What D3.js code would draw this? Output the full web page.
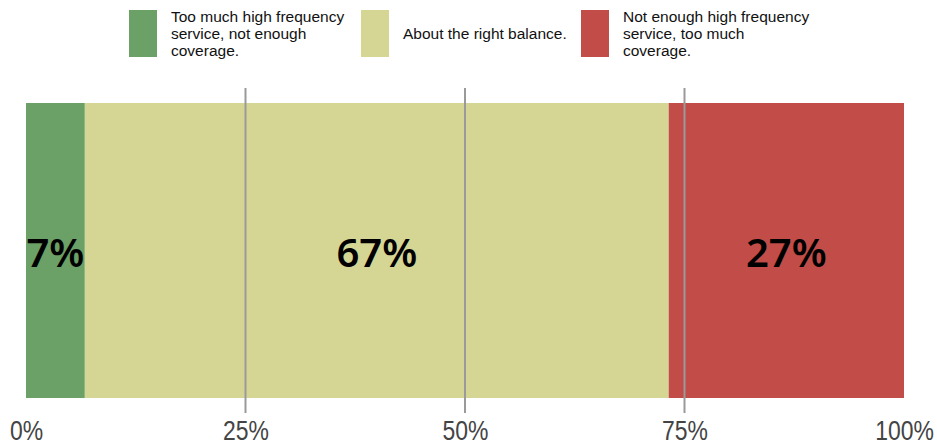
<!DOCTYPE html>
<html>
<head>
<meta charset="utf-8">
<script src="https://cdn.jsdelivr.net/npm/d3@7"></script>
<style>
  body { margin: 0; background: #fff; }
</style>
</head>
<body>
<div id="chart"></div>
<script>
// data
const categories = [
  "Too much high frequency service, not enough coverage.",
  "About the right balance.",
  "Not enough high frequency service, too much coverage."
];
const legendLines = [
  ["Too much high frequency", "service, not enough", "coverage."],
  ["About the right balance."],
  ["Not enough high frequency", "service, too much", "coverage."]
];
const values = [6.7, 66.5, 26.8];
const valueLabels = ["7%", "67%", "27%"];
const colors = ["#6ba066", "#d5d694", "#c24c47"];
const ticks = [0, 25, 50, 75, 100];

const width = 937;
const height = 445;
const margin = { top: 103, right: 33, bottom: 47, left: 26 };

const svg = d3.select("#chart")
  .append("svg")
  .attr("width", width)
  .attr("height", height);

const x = d3.scaleLinear().domain([0, 100]).range([margin.left, width - margin.right]);
const y = d3.scaleBand().domain(["all"]).range([margin.top, height - margin.bottom]).padding(0);

// stack the segments
let acc = 0;
const segs = values.map((v, i) => {
  const s = { start: acc, end: acc + v, i };
  acc += v;
  return s;
});

svg.selectAll("rect.seg")
  .data(segs)
  .join("rect")
  .attr("class", "seg")
  .attr("x", d => x(d.start))
  .attr("width", d => x(d.end) - x(d.start))
  .attr("y", y("all"))
  .attr("height", y.bandwidth())
  .attr("fill", d => colors[d.i]);

// gridlines drawn on top
svg.append("g")
  .selectAll("line")
  .data(ticks.slice(1, -1))
  .join("line")
  .attr("x1", d => x(d))
  .attr("x2", d => x(d))
  .attr("y1", margin.top - 15)
  .attr("y2", height - margin.bottom + 15)
  .attr("stroke", "#9a9a9a")
  .attr("stroke-width", 2);

// value labels
svg.selectAll("text.val")
  .data(segs)
  .join("text")
  .attr("class", "val")
  .attr("x", d => x((d.start + d.end) / 2))
  .attr("y", y("all") + y.bandwidth() / 2 + 16)
  .attr("text-anchor", "middle")
  .attr("font-family", "'Noto Sans', sans-serif")
  .attr("font-weight", 600)
  .attr("font-size", 40)
  .attr("fill", "#000")
  .text(d => valueLabels[d.i]);

// axis (narrow look: squeeze horizontally)
const axis = svg.append("g")
  .attr("transform", `translate(0,${height - margin.bottom})`)
  .call(d3.axisBottom(x).tickValues(ticks).tickFormat(d => d + "%").tickSize(0).tickPadding(0));
axis.select(".domain").remove();
axis.selectAll("text")
  .attr("y", 42)
  .attr("dy", 0)
  .attr("transform", "scale(0.82,1)")
  .attr("font-family", "'Liberation Sans', Arial, sans-serif")
  .attr("font-size", 28)
  .attr("fill", "#444");

// legend
const legendX = [129, 361, 581];
const lg = svg.append("g").selectAll("g")
  .data(categories)
  .join("g")
  .attr("transform", (d, i) => `translate(${legendX[i]},10)`);

lg.append("rect")
  .attr("width", 28)
  .attr("height", 47)
  .attr("fill", (d, i) => colors[i]);

lg.each(function (d, i) {
  const lines = legendLines[i];
  const t = d3.select(this).append("text")
    .attr("font-family", "'Liberation Sans', Arial, sans-serif")
    .attr("font-size", 15.5)
    .attr("fill", "#111");
  const y0 = 23.5 - (lines.length - 1) * 8.5 + 5.5;
  lines.forEach((ln, k) => {
    t.append("tspan")
      .attr("x", 42)
      .attr("y", y0 + k * 17)
      .text(ln);
  });
});
</script>
</body>
</html>
